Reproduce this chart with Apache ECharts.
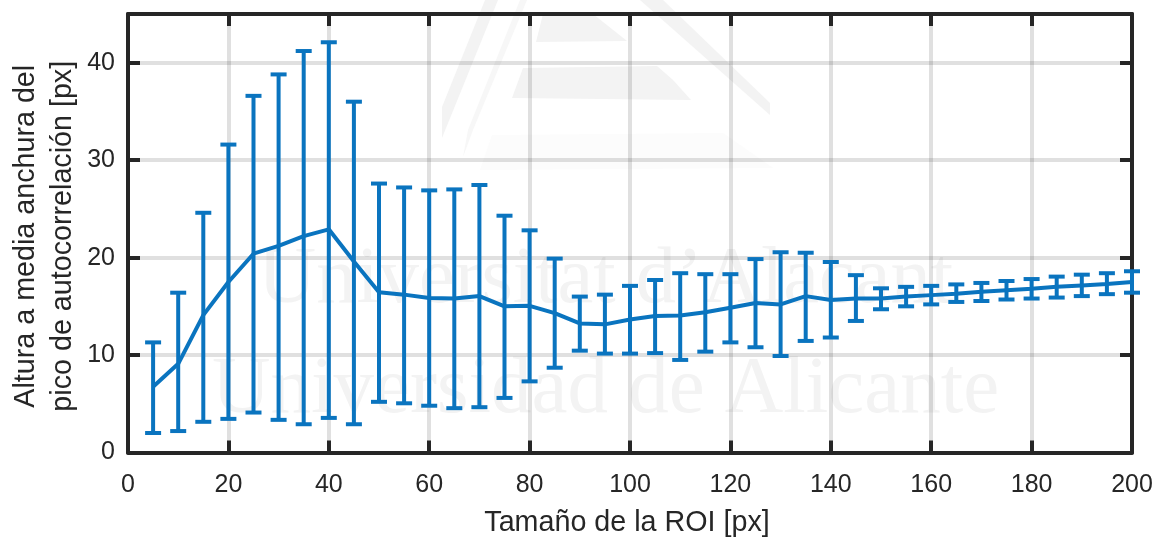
<!DOCTYPE html>
<html>
<head>
<meta charset="utf-8">
<style>html,body{margin:0;padding:0;background:#fff}#c{width:1157px;height:538px}</style>
<script src="https://cdn.jsdelivr.net/npm/echarts@6/dist/echarts.min.js"></script>
</head>
<body>
<div id="c"></div>
<script>
const roi = [5,10,15,20,25,30,35,40,45,50,55,60,65,70,75,80,85,90,95,100,105,110,115,120,125,130,135,140,145,150,155,160,165,170,175,180,185,190,195,200];
const mean = [6.75,9.1,14.1,17.5,20.4,21.2,22.2,22.9,19.6,16.45,16.2,15.85,15.8,16.05,15.0,15.05,14.3,13.25,13.15,13.65,14.0,14.05,14.4,14.85,15.35,15.2,16.05,15.65,15.8,15.8,16.0,16.15,16.3,16.5,16.65,16.8,17.0,17.15,17.3,17.5];
const upper = [11.3,16.4,24.6,31.6,36.6,38.8,41.2,42.1,36.0,27.6,27.2,26.9,27.0,27.45,24.3,22.8,19.9,16.0,16.2,17.1,17.7,18.4,18.3,18.3,19.85,20.55,20.5,19.55,18.2,16.85,17.0,17.1,17.25,17.4,17.6,17.8,18.05,18.25,18.4,18.6];
const lower = [2.0,2.2,3.15,3.45,4.1,3.35,2.9,3.55,2.9,5.2,5.05,4.8,4.55,4.65,5.6,7.3,8.7,10.45,10.15,10.15,10.2,9.5,10.35,11.3,10.8,9.9,11.45,11.8,13.5,14.7,15.0,15.2,15.45,15.55,15.7,15.8,15.9,16.05,16.25,16.4];
const xLabel = 'Tamaño de la ROI [px]';
const yLabel = 'Altura a media anchura del\npico de autocorrelación [px]';
const watermarkTop = 'Universitat d’Alacant';
const watermarkBottom = 'Universidad de Alicante';

const BLUE = '#0a74bf', INK = '#262626', FONT = '"Liberation Sans", Arial, sans-serif';
const GRIDC = 'rgba(38,38,38,0.14)';
const wm = '#f3f3f3';
const poly = (points, fill) => ({type:'polygon', z:-10, silent:true, shape:{points}, style:{fill}});
const wmText = (x, y, text, size) => ({type:'text', z:-10, silent:true, x, y, style:{text, fill:wm, font:size+'px "Liberation Serif", serif'}});

const frameAxis = (extra) => Object.assign({
  type:'value', min:0,
  axisLine:{show:true, onZero:false, lineStyle:{color:INK, width:4}},
  axisTick:{show:true, inside:true, length:12, lineStyle:{color:INK, width:4}},
  splitLine:{show:false},
  axisLabel:{show:false}
}, extra);

const chart = echarts.init(document.getElementById('c'), null, {renderer:'canvas'});
chart.setOption({
  animation:false,
  backgroundColor:'#fff',
  grid:{left:128, right:25, top:14, bottom:85.5, containLabel:false, outerBoundsMode:'none'},
  graphic:[
    poly([[485,0],[498,0],[442,138],[442,107]], wm),
    poly([[520,0],[527,0],[473,130],[463,157],[468,130]], '#f7f7f7'),
    poly([[543,14],[593,14],[627,41],[536,42]], wm),
    poly([[523,68],[657,66],[673,80],[691,100],[512,98]], wm),
    poly([[640,0],[663,0],[770,103],[770,115]], wm),
    poly([[492,135],[723,133],[773,168],[480,170]], '#fcfcfc'),
    wmText(258, 240.5, watermarkTop, 80.5),
    wmText(212, 350.5, watermarkBottom, 81)
  ],
  xAxis:[
    frameAxis({max:200, interval:20, position:'bottom',
      splitLine:{show:true, lineStyle:{color:GRIDC, width:4}},
      axisLabel:{show:true, color:INK, fontFamily:FONT, fontSize:25, margin:20},
      name:xLabel, nameLocation:'middle', nameGap:56,
      nameTextStyle:{color:INK, fontFamily:FONT, fontSize:28.7, padding:[0,6,0,0]}}),
    frameAxis({max:200, interval:20, position:'top'})
  ],
  yAxis:[
    frameAxis({max:45, interval:10, position:'left',
      splitLine:{show:true, lineStyle:{color:GRIDC, width:4}},
      axisLabel:{show:true, color:INK, fontFamily:FONT, fontSize:25, margin:13, showMaxLabel:false},
      name:yLabel, nameLocation:'middle', nameGap:46, nameMoveOverlap:false,
      nameTextStyle:{color:INK, fontFamily:FONT, fontSize:28.7, lineHeight:37, padding:[0,6,0,0]}}),
    frameAxis({max:45, interval:10, position:'right'})
  ],
  series:[
    {
      type:'custom', xAxisIndex:0, yAxisIndex:0, clip:false, z:5,
      data: roi.map((x,i)=>[x, lower[i], upper[i]]),
      encode:{x:0, y:[1,2]},
      renderItem:(params, api)=>{
        const x = api.value(0);
        const lo = api.coord([x, api.value(1)]);
        const hi = api.coord([x, api.value(2)]);
        const cap = 8;
        const st = {stroke:BLUE, lineWidth:4, fill:null};
        const seg = (x1,y1,x2,y2)=>({type:'line', shape:{x1,y1,x2,y2}, style:st});
        return {type:'group', children:[
          seg(lo[0],lo[1],hi[0],hi[1]),
          seg(lo[0]-cap,lo[1],lo[0]+cap,lo[1]),
          seg(hi[0]-cap,hi[1],hi[0]+cap,hi[1])
        ]};
      }
    },
    {
      type:'line', xAxisIndex:0, yAxisIndex:0, z:6, clip:false,
      data: roi.map((x,i)=>[x, mean[i]]),
      showSymbol:false, symbol:'none', smooth:false,
      lineStyle:{color:BLUE, width:4}
    }
  ]
});
</script>
</body>
</html>
